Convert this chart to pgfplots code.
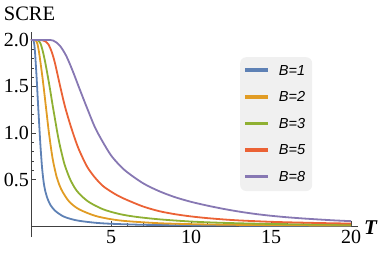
\documentclass[border=0pt]{standalone}
\usepackage{fontspec}
\setmainfont{Liberation Serif}
\newfontfamily\legfont{Liberation Sans}
\usepackage{pgfplots}
\pgfplotsset{compat=1.18}
\definecolor{mmaA}{HTML}{5E81B5}
\definecolor{mmaB}{HTML}{E19C24}
\definecolor{mmaC}{HTML}{8FB032}
\definecolor{mmaD}{HTML}{EB6235}
\definecolor{mmaE}{HTML}{8778B3}
\begin{document}
\begin{tikzpicture}
\begin{axis}[
  scale only axis, width=327.2pt, height=205.53pt,
  xmin=0, xmax=20.45, ymin=-0.12, ymax=2.09,
  axis lines=middle, axis line style={-, draw=black!75, line width=0.6pt},
  clip=false,
  xtick={5,10,15,20}, ytick={0.5,1,1.5,2},
  minor x tick num=4, minor y tick num=4,
  tick align=inside,
  major tick length=5pt, minor tick length=3pt,
  every tick/.style={black!75, line width=0.5pt},
  /pgf/number format/assume math mode=true,
  yticklabel style={/pgf/number format/fixed, /pgf/number format/fixed zerofill, /pgf/number format/precision=1, xshift=1.5pt},
  ticklabel style={font=\fontsize{20}{20}\selectfont},
  xticklabel style={yshift=-1pt},
  legend style={at={(axis cs:13.06,1.817)}, anchor=north west, fill=black!6, draw=none,
    rounded corners=6pt, font=\legfont\itshape\fontsize{14.5}{14.5}\selectfont,
    inner xsep=5pt, inner ysep=6pt, row sep=11pt, column sep=9pt},
  legend cell align=left,
  legend image code/.code={\fill[#1, rounded corners=0pt] (0pt,-0.1pt) rectangle (21pt,1.7pt);},
  every axis plot/.append style={line width=1.8pt, smooth},
]
\addplot[mmaA] coordinates {(0,2) (0.1,2.0) (0.15,1.995) (0.2,1.96) (0.25,1.87) (0.3,1.74) (0.35,1.6) (0.4,1.44) (0.45,1.28) (0.5,1.13) (0.55,0.98) (0.6,0.84) (0.65,0.72) (0.7,0.61) (0.8,0.46) (0.9,0.37) (1.0,0.31) (1.2,0.23) (1.5,0.165) (2.0,0.105) (2.5,0.075) (3,0.056) (4,0.035) (5,0.024) (7,0.013) (10,0.007) (15,0.003) (20,0.002)};
\addlegendentry{B=1}
\addplot[mmaB] coordinates {(0,2) (0.2,2.0) (0.3,1.995) (0.4,1.96) (0.5,1.87) (0.6,1.75) (0.7,1.62) (0.8,1.48) (0.9,1.33) (1.0,1.18) (1.1,1.03) (1.2,0.9) (1.3,0.78) (1.4,0.68) (1.6,0.53) (1.8,0.43) (2.0,0.36) (2.4,0.26) (3.0,0.18) (4,0.11) (5,0.073) (6,0.052) (8,0.03) (10,0.02) (12,0.014) (15,0.009) (20,0.005)};
\addlegendentry{B=2}
\addplot[mmaC] coordinates {(0,2) (0.3,2.0) (0.45,1.995) (0.6,1.96) (0.75,1.87) (0.9,1.75) (1.05,1.61) (1.2,1.46) (1.35,1.3) (1.5,1.15) (1.65,1.0) (1.8,0.87) (1.95,0.76) (2.1,0.66) (2.4,0.52) (2.7,0.42) (3.0,0.35) (3.6,0.26) (4.5,0.18) (5.5,0.13) (6.5,0.1) (8,0.072) (10,0.048) (12,0.034) (15,0.022) (20,0.013)};
\addlegendentry{B=3}
\addplot[mmaD] coordinates {(0,2) (0.5,2.0) (0.75,1.995) (0.9,1.985) (1.1,1.95) (1.3,1.87) (1.5,1.75) (1.8,1.52) (2.1,1.3) (2.4,1.12) (2.7,0.96) (3.0,0.82) (3.5,0.64) (4.0,0.52) (4.5,0.43) (5.0,0.37) (5.5,0.32) (6.0,0.28) (7.0,0.21) (8.0,0.16) (9.0,0.127) (10,0.103) (11,0.085) (12,0.071) (13,0.06) (14,0.052) (15,0.045) (16,0.04) (17,0.036) (18,0.032) (19,0.029) (20,0.026)};
\addlegendentry{B=5}
\addplot[mmaE] coordinates {(0,2) (1.0,2.0) (1.4,1.993) (1.8,1.94) (2.2,1.83) (2.6,1.67) (3.0,1.49) (3.5,1.27) (4.0,1.06) (4.5,0.9) (5.0,0.76) (5.5,0.66) (6.0,0.58) (7.0,0.46) (8.0,0.375) (9.0,0.31) (10,0.26) (11,0.22) (12,0.185) (13,0.155) (14,0.13) (15,0.11) (16,0.094) (17,0.081) (18,0.07) (19,0.06) (20,0.052)};
\addlegendentry{B=8}
\coordinate (O) at (axis cs:0,0);
\node[font=\fontsize{20.5}{20.5}\selectfont] at (axis cs:-0.094,2.285) {SCRE};
\node[font=\bfseries\itshape\fontsize{21}{21}\selectfont] at (axis cs:21.22,-0.02) {T};
\end{axis}
\path[use as bounding box] ([shift={(-31pt,-30pt)}]O) rectangle ([shift={(351pt,226pt)}]O);
\end{tikzpicture}
\end{document}
